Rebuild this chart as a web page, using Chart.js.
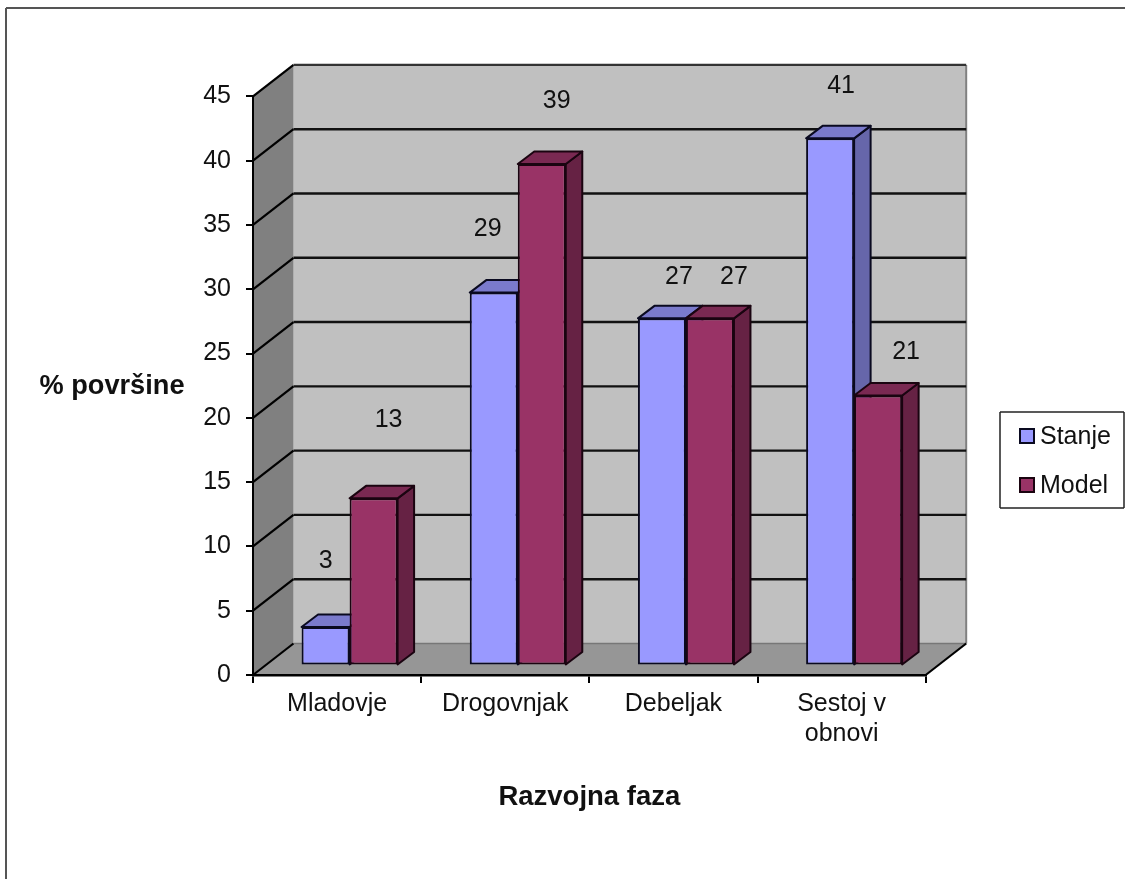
<!DOCTYPE html>
<html>
<head>
<meta charset="utf-8">
<title>Razvojna faza</title>
<script src="https://cdn.jsdelivr.net/npm/chart.js@4"></script>
<style>
	html, body { margin: 0; padding: 0; background: #fff; overflow: hidden; }
	canvas { display: block; }
</style>
</head>
<body>
<canvas id="phaseChart" width="1125" height="879"></canvas>
<script>
const categories = ['Mladovje', 'Drogovnjak', 'Debeljak', ['Sestoj v', 'obnovi']];
const stanje = [3, 29, 27, 41];
const model = [13, 39, 27, 21];
const yTicks = [0, 5, 10, 15, 20, 25, 30, 35, 40, 45];
const xTitle = 'Razvojna faza';
const yTitle = '% površine';

const FONT = '"Liberation Sans", Arial, sans-serif';

// how far the back wall sits behind the axes
const wall = { dx: 40.5, dy: 31.5 };
// front plane of the columns, and their depth
const column = { x: 12.5, y: 9.5, dx: 16.5, dy: 12.5 };

// value labels float off the column tops, [dx, dy] per category
const stanjeLabelShift = [[0, -66], [-6, -64], [17, -41], [11, -52]];
const modelLabelShift = [[15, -78], [15, -63], [24, -41], [28, -43]];

const shade = function(hex, k) {
	const n = parseInt(hex.slice(1), 16);
	const c = [n >> 16, (n >> 8) & 255, n & 255].map(v => Math.round(v * k));
	return 'rgb(' + c.join(',') + ')';
};

const poly = function(ctx, pts, fill, stroke, width) {
	ctx.beginPath();
	pts.forEach((p, i) => i ? ctx.lineTo(p[0], p[1]) : ctx.moveTo(p[0], p[1]));
	ctx.closePath();
	if (fill) { ctx.fillStyle = fill; ctx.fill(); }
	if (stroke) { ctx.strokeStyle = stroke; ctx.lineWidth = width; ctx.lineJoin = 'round'; ctx.stroke(); }
};

const segment = function(ctx, x0, y0, x1, y1, color, width) {
	ctx.beginPath();
	ctx.moveTo(x0, y0);
	ctx.lineTo(x1, y1);
	ctx.strokeStyle = color;
	ctx.lineWidth = width;
	ctx.stroke();
};

// walls, floor and gridlines go under everything the scales draw
const roomPlugin = {
	id: 'room',
	beforeDraw(chart) {
		const { ctx, chartArea: a, scales: { y } } = chart;
		const bx0 = a.left + wall.dx, bx1 = a.right + wall.dx;
		const by0 = a.bottom - wall.dy, by1 = a.top - wall.dy;
		ctx.save();

		// outer frame, only top and left are inside the canvas
		segment(ctx, 6, 8, 1125, 8, '#555', 2);
		segment(ctx, 6, 8, 6, 879, '#555', 2);

		poly(ctx, [[bx0, by1], [bx1, by1], [bx1, by0], [bx0, by0]], '#c0c0c0');
		poly(ctx, [[a.left, a.top], [bx0, by1], [bx0, by0], [a.left, a.bottom]], '#808080');
		poly(ctx, [[a.left, a.bottom], [bx0, by0], [bx1, by0], [a.right, a.bottom]], '#969696');
		segment(ctx, bx1, by1, bx1, by0, '#808080', 2);
		segment(ctx, bx0, by0, bx1, by0, '#777', 1.5);

		yTicks.forEach(v => {
			const py = y.getPixelForValue(v);
			segment(ctx, a.left, py, bx0, py - wall.dy, '#000', 2.2);
			if (v > 0) segment(ctx, bx0, py - wall.dy, bx1, py - wall.dy, v === 45 ? '#333' : '#111', 2.4);
		});
		segment(ctx, a.right, a.bottom, bx1, by0, '#000', 2.2);
		ctx.restore();
	}
};

// top and side faces; the library then paints the front faces over them
const columnPlugin = {
	id: 'columns',
	beforeDatasetsDraw(chart) {
		const ctx = chart.ctx;
		ctx.save();
		chart.data.datasets.forEach((ds, i) => {
			chart.getDatasetMeta(i).data.forEach(bar => {
				const l = bar.x - bar.width / 2 + column.x, r = bar.x + bar.width / 2 + column.x;
				const t = bar.y - column.y, b = bar.base - column.y;
				const edge = ds.borderColor;
				poly(ctx, [[r, t], [r + column.dx, t - column.dy], [r + column.dx, b - column.dy], [r, b]], shade(ds.backgroundColor, 2 / 3), edge, 2);
				poly(ctx, [[l, t], [l + column.dx, t - column.dy], [r + column.dx, t - column.dy], [r, t]], shade(ds.backgroundColor, 0.8), edge, 2);
			});
		});
		ctx.restore();
	},
	beforeDatasetDraw(chart) {
		chart.ctx.save();
		chart.ctx.translate(column.x, -column.y);
	},
	afterDatasetDraw(chart) {
		chart.ctx.restore();
	}
};

const textPlugin = {
	id: 'texts',
	afterDraw(chart) {
		const { ctx, chartArea: a } = chart;
		ctx.save();
		ctx.fillStyle = '#111';
		ctx.textBaseline = 'middle';

		// value labels
		ctx.font = '25px ' + FONT;
		ctx.textAlign = 'center';
		chart.data.datasets.forEach((ds, i) => {
			chart.getDatasetMeta(i).data.forEach((bar, j) => {
				const s = ds.labelShift[j];
				ctx.fillText(String(ds.data[j]), bar.x + column.x + s[0], bar.y - column.y + s[1]);
			});
		});

		// y title stays horizontal, left of the tick labels
		ctx.font = 'bold 27.2px ' + FONT;
		ctx.fillText(yTitle, 112, (a.top + a.bottom) / 2 + 1);

		// legend box on the right
		segment(ctx, 1000, 412, 1124, 412, '#222', 1.5);
		segment(ctx, 1000, 508, 1124, 508, '#222', 1.5);
		segment(ctx, 1000, 412, 1000, 508, '#222', 1.5);
		segment(ctx, 1124, 412, 1124, 508, '#222', 1.5);
		ctx.font = '25px ' + FONT;
		ctx.textAlign = 'left';
		chart.data.datasets.forEach((ds, i) => {
			const rowY = 436 + i * 49;
			ctx.fillStyle = ds.backgroundColor;
			ctx.fillRect(1020, rowY - 7, 14, 14);
			ctx.strokeStyle = ds.borderColor;
			ctx.lineWidth = 2;
			ctx.strokeRect(1020, rowY - 7, 14, 14);
			ctx.fillStyle = '#111';
			ctx.fillText(ds.label, 1040, rowY + 1);
		});
		ctx.restore();
	}
};

new Chart(document.getElementById('phaseChart'), {
	type: 'bar',
	data: {
		labels: categories,
		datasets: [
			{ label: 'Stanje', data: stanje, backgroundColor: '#9999ff', borderColor: '#0a0a20', borderWidth: 2, borderSkipped: false, labelShift: stanjeLabelShift },
			{ label: 'Model', data: model, backgroundColor: '#993366', borderColor: '#1a0410', borderWidth: 2, borderSkipped: false, labelShift: modelLabelShift }
		]
	},
	options: {
		responsive: false,
		animation: false,
		layout: { padding: { top: 96.4, right: 199.3, left: 0, bottom: 0 } },
		datasets: { bar: { barPercentage: 1, categoryPercentage: 0.571, clip: false } },
		plugins: { legend: { display: false }, title: { display: false }, tooltip: { enabled: false } },
		scales: {
			x: {
				afterFit(scale) { scale.height = 204; },
				border: { display: true, color: '#000', width: 2.5 },
				grid: { drawOnChartArea: false, color: '#000', lineWidth: 2, tickLength: 8 },
				ticks: { color: '#111', font: { family: FONT, size: 25 }, padding: 6, maxRotation: 0, autoSkip: false },
				title: { display: true, text: xTitle, color: '#111', font: { family: FONT, size: 27.5, weight: 'bold' }, padding: { top: 65, bottom: 65 } }
			},
			y: {
				min: 0,
				max: 45,
				afterFit(scale) { scale.width = 253; },
				afterBuildTicks(scale) { scale.ticks = yTicks.map(v => ({ value: v })); },
				border: { display: true, color: '#000', width: 2 },
				grid: { drawOnChartArea: false, color: '#000', lineWidth: 2, tickLength: 7 },
				ticks: { color: '#111', font: { family: FONT, size: 25 }, padding: 15 }
			}
		}
	},
	plugins: [roomPlugin, columnPlugin, textPlugin]
});
</script>
</body>
</html>
